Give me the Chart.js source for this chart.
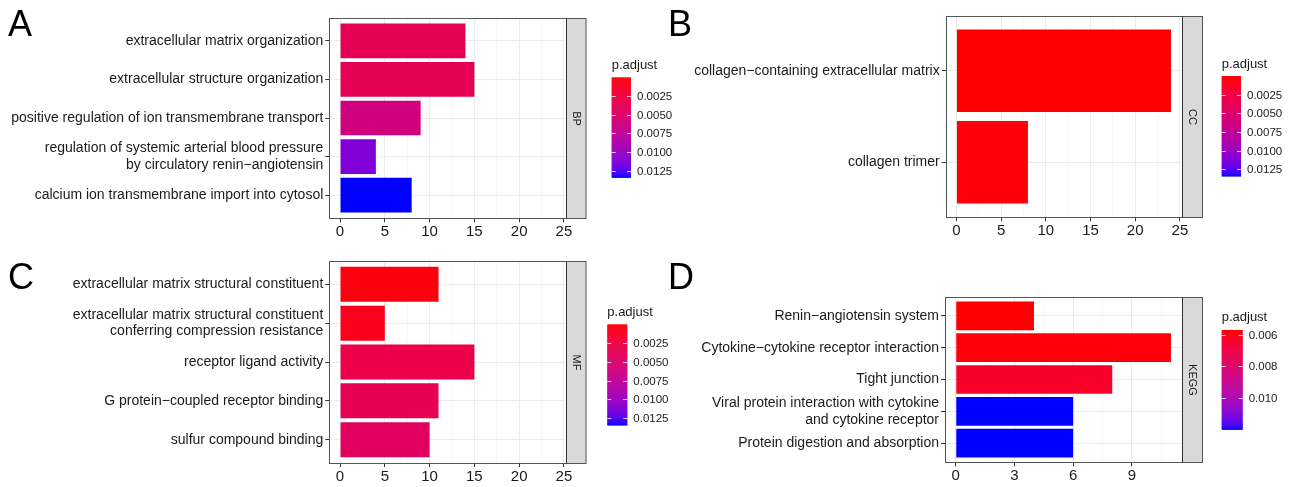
<!DOCTYPE html>
<html>
<head>
<meta charset="utf-8">
<script src="https://cdn.jsdelivr.net/npm/chart.js@4.4.0/dist/chart.umd.min.js"></script>
<style>
  html, body { margin: 0; padding: 0; background: #fff; }
  #wrap { position: relative; width: 1294px; height: 487px; overflow: hidden; }
  canvas { position: absolute; }
</style>
</head>
<body>
<div id="wrap">
  <canvas id="bp" width="690" height="245" style="left:0;top:0"></canvas>
  <canvas id="mf" width="690" height="242" style="left:0;top:245px"></canvas>
  <canvas id="cc" width="634" height="245" style="left:660px;top:0"></canvas>
  <canvas id="kegg" width="634" height="242" style="left:660px;top:245px"></canvas>
</div>
<script>
// --- data ---
const bpTerms = [
    'extracellular matrix organization',
    'extracellular structure organization',
    'positive regulation of ion transmembrane transport',
    ['regulation of systemic arterial blood pressure', 'by circulatory renin\u2212angiotensin'],
    'calcium ion transmembrane import into cytosol'
];
const bpCount = [14, 15, 9, 4, 8];
const bpPadj = [0.0036, 0.0036, 0.0060, 0.0112, 0.0134];

const ccTerms = ['collagen\u2212containing extracellular matrix', 'collagen trimer'];
const ccCount = [24, 8];
const ccPadj = [0.00001, 0.0002];

const mfTerms = [
    'extracellular matrix structural constituent',
    ['extracellular matrix structural constituent', 'conferring compression resistance'],
    'receptor ligand activity',
    'G protein\u2212coupled receptor binding',
    'sulfur compound binding'
];
const mfCount = [11, 5, 15, 11, 10];
const mfPadj = [0.0003, 0.0008, 0.0030, 0.0035, 0.0042];

const keggTerms = [
    'Renin\u2212angiotensin system',
    'Cytokine\u2212cytokine receptor interaction',
    'Tight junction',
    ['Viral protein interaction with cytokine', 'and cytokine receptor'],
    'Protein digestion and absorption'
];
const keggCount = [4, 11, 8, 6, 6];
const keggPadj = [0.0057, 0.0058, 0.0063, 0.0120, 0.0120];

const goCountTicks = [0, 5, 10, 15, 20, 25];
const keggCountTicks = [0, 3, 6, 9];
const goLegendTicks = [0.0025, 0.0050, 0.0075, 0.0100, 0.0125];
const keggLegendTicks = [0.006, 0.008, 0.010];

// --- colour scale (red -> blue, interpolated in Lab like ggplot) ---
function toLin(c) { c /= 255; return c <= 0.04045 ? c / 12.92 : Math.pow((c + 0.055) / 1.055, 2.4); }
function fromLin(c) {
    c = c <= 0.0031308 ? 12.92 * c : 1.055 * Math.pow(c, 1 / 2.4) - 0.055;
    return Math.round(Math.max(0, Math.min(1, c)) * 255);
}
function toLab(rgb) {
    const r = toLin(rgb[0]), g = toLin(rgb[1]), b = toLin(rgb[2]);
    const x = (0.4124 * r + 0.3576 * g + 0.1805 * b) / 0.95047;
    const y = 0.2126 * r + 0.7152 * g + 0.0722 * b;
    const z = (0.0193 * r + 0.1192 * g + 0.9505 * b) / 1.08883;
    const f = t => t > 0.008856 ? Math.cbrt(t) : 7.787 * t + 16 / 116;
    return [116 * f(y) - 16, 500 * (f(x) - f(y)), 200 * (f(y) - f(z))];
}
function labToCss(lab) {
    const fy = (lab[0] + 16) / 116, fx = fy + lab[1] / 500, fz = fy - lab[2] / 200;
    const inv = t => t > 0.206893 ? t * t * t : (t - 16 / 116) / 7.787;
    const x = inv(fx) * 0.95047, y = inv(fy), z = inv(fz) * 1.08883;
    const r = 3.2406 * x - 1.5372 * y - 0.4986 * z;
    const g = -0.9689 * x + 1.8758 * y + 0.0415 * z;
    const b = 0.0557 * x - 0.2040 * y + 1.0570 * z;
    return 'rgb(' + fromLin(r) + ',' + fromLin(g) + ',' + fromLin(b) + ')';
}
const labLow = toLab([255, 0, 0]);
const labHigh = toLab([0, 0, 255]);
function colorAt(t) {
    t = Math.max(0, Math.min(1, t));
    return labToCss([0, 1, 2].map(k => labLow[k] + (labHigh[k] - labLow[k]) * t));
}

const FONT = "'Liberation Sans', Arial, sans-serif";
const INK = '#1a1a1a';

// draws the box, facet strip, panel letter and colour bar
const panelDeco = {
    id: 'panelDeco',
    afterDraw(chart, args, o) {
        const ctx = chart.ctx;
        const ca = chart.chartArea;
        const l = Math.round(ca.left) + 0.5, t = Math.round(ca.top) + 0.5;
        const r = Math.round(ca.right) + 0.5, b = Math.round(ca.bottom) + 0.5;
        ctx.save();
        // strip
        ctx.fillStyle = '#d9d9d9';
        ctx.fillRect(r, t, o.stripW, b - t);
        ctx.strokeStyle = '#555';
        ctx.lineWidth = 1;
        ctx.strokeRect(l, t, r - l + o.stripW, b - t);
        ctx.strokeStyle = '#333';
        ctx.beginPath();
        ctx.moveTo(r, t);
        ctx.lineTo(r, b);
        ctx.stroke();
        ctx.save();
        ctx.translate(r + o.stripW / 2, (t + b) / 2);
        ctx.rotate(Math.PI / 2);
        ctx.fillStyle = INK;
        ctx.font = '11px ' + FONT;
        ctx.textAlign = 'center';
        ctx.textBaseline = 'middle';
        ctx.fillText(o.strip, 0, 0);
        ctx.restore();

        // panel letter
        ctx.fillStyle = '#000';
        ctx.font = '36px ' + FONT;
        ctx.textAlign = 'left';
        ctx.textBaseline = 'alphabetic';
        ctx.fillText(o.letter, o.letterX, o.letterY);

        // colour bar legend
        const lg = o.legend;
        ctx.fillStyle = INK;
        ctx.font = '13px ' + FONT;
        ctx.textBaseline = 'middle';
        ctx.fillText('p.adjust', lg.x, lg.titleY);
        const n = Math.round(lg.h);
        for (let i = 0; i < n; i++) {
            ctx.fillStyle = colorAt(i / (n - 1));
            ctx.fillRect(lg.x, lg.top + i * lg.h / n, lg.w, lg.h / n + 0.6);
        }
        ctx.font = '11.5px ' + FONT;
        ctx.strokeStyle = 'rgba(255,255,255,0.8)';
        lg.ticks.forEach(v => {
            const y = Math.round(lg.top + (v - lg.min) / (lg.max - lg.min) * lg.h) + 0.5;
            ctx.beginPath();
            ctx.moveTo(lg.x, y); ctx.lineTo(lg.x + 4, y);
            ctx.moveTo(lg.x + lg.w - 4, y); ctx.lineTo(lg.x + lg.w, y);
            ctx.stroke();
            ctx.fillStyle = INK;
            ctx.fillText(v.toFixed(lg.digits), lg.x + lg.w + 6, y);
        });
        ctx.restore();
    }
};

function makePanel(id, terms, counts, padj, pRange, countTicks, countMax, deco) {
    const canvas = document.getElementById(id);
    const W = canvas.width, H = canvas.height;
    const xMax = countMax * 1.05, xMin = -countMax * 0.05;
    const step = (countTicks[1] - countTicks[0]) / 2;
    const allTicks = [];
    for (let v = countTicks[0]; v <= xMax; v += step) allTicks.push(v);
    const isMajor = v => countTicks.some(m => Math.abs(m - v) < 1e-9);
    deco.legend.min = pRange[0];
    deco.legend.max = pRange[1];

    new Chart(canvas, {
        type: 'bar',
        data: {
            datasets: [{
                data: counts.map((c, i) => ({ x: c, y: i })),
                backgroundColor: padj.map(p => colorAt((p - pRange[0]) / (pRange[1] - pRange[0]))),
                borderWidth: 0,
                barPercentage: 0.9,
                categoryPercentage: 1
            }]
        },
        options: {
            indexAxis: 'y',
            responsive: false,
            animation: false,
            layout: { padding: { left: 0, top: deco.top, right: W - deco.right, bottom: 0 } },
            plugins: {
                legend: { display: false },
                tooltip: { enabled: false },
                panelDeco: deco
            },
            scales: {
                x: {
                    type: 'linear',
                    min: xMin,
                    max: xMax,
                    afterBuildTicks: s => { s.ticks = allTicks.map(v => ({ value: v })); },
                    afterFit: s => { s.height = H - deco.bottom; },
                    border: { display: false },
                    grid: {
                        color: c => c.tick && isMajor(c.tick.value) ? '#ebebeb' : '#f5f5f5',
                        lineWidth: c => c.tick && isMajor(c.tick.value) ? 1 : 0.7,
                        tickColor: c => c.tick && isMajor(c.tick.value) ? '#333' : 'rgba(0,0,0,0)',
                        tickLength: 4
                    },
                    ticks: {
                        autoSkip: false,
                        maxRotation: 0,
                        padding: 1,
                        color: INK,
                        font: { family: FONT, size: 15 },
                        callback: v => isMajor(v) ? String(v) : ''
                    }
                },
                y: {
                    type: 'linear',
                    reverse: true,
                    offset: false,
                    min: -0.6,
                    max: terms.length - 1 + 0.6,
                    afterBuildTicks: s => { s.ticks = terms.map((t, i) => ({ value: i })); },
                    afterFit: s => { s.width = deco.left; },
                    border: { display: false },
                    grid: { offset: false, color: '#ebebeb', tickColor: '#333', tickLength: 4 },
                    ticks: {
                        autoSkip: false,
                        padding: 2,
                        color: INK,
                        font: { family: FONT, size: 14, lineHeight: 1.2 },
                        callback: v => terms[v]
                    }
                }
            }
        },
        plugins: [panelDeco]
    });
}

const goAll = bpPadj.concat(ccPadj, mfPadj);
const goRange = [Math.min(...goAll), Math.max(...goAll)];
const keggRange = [Math.min(...keggPadj), Math.max(...keggPadj)];
const goMax = Math.max(...bpCount, ...ccCount, ...mfCount);
const keggMax = Math.max(...keggCount);

makePanel('bp', bpTerms, bpCount, bpPadj, goRange, goCountTicks, goMax, {
    left: 329.3, right: 565.7, top: 17.7, bottom: 218.3, stripW: 19.5, strip: 'BP',
    letter: 'A', letterX: 8, letterY: 36,
    legend: { x: 611.7, titleY: 65, top: 77.3, h: 100, w: 19.3, ticks: goLegendTicks, digits: 4 }
});
makePanel('mf', mfTerms, mfCount, mfPadj, goRange, goCountTicks, goMax, {
    left: 329.3, right: 565.7, top: 16, bottom: 218, stripW: 19.5, strip: 'MF',
    letter: 'C', letterX: 8, letterY: 44,
    legend: { x: 607.3, titleY: 67.7, top: 79.3, h: 100.7, w: 20, ticks: goLegendTicks, digits: 4 }
});
makePanel('cc', ccTerms, ccCount, ccPadj, goRange, goCountTicks, goMax, {
    left: 285.7, right: 521.7, top: 15.7, bottom: 217.3, stripW: 20, strip: 'CC',
    letter: 'B', letterX: 8, letterY: 36,
    legend: { x: 561.7, titleY: 64, top: 76, h: 100, w: 19.3, ticks: goLegendTicks, digits: 4 }
});
makePanel('kegg', keggTerms, keggCount, keggPadj, keggRange, keggCountTicks, keggMax, {
    left: 285, right: 521.7, top: 51.7, bottom: 217.3, stripW: 20, strip: 'KEGG',
    letter: 'D', letterX: 8, letterY: 44,
    legend: { x: 561.7, titleY: 72.7, top: 85, h: 99.3, w: 21, ticks: keggLegendTicks, digits: 3 }
});
</script>
</body>
</html>
